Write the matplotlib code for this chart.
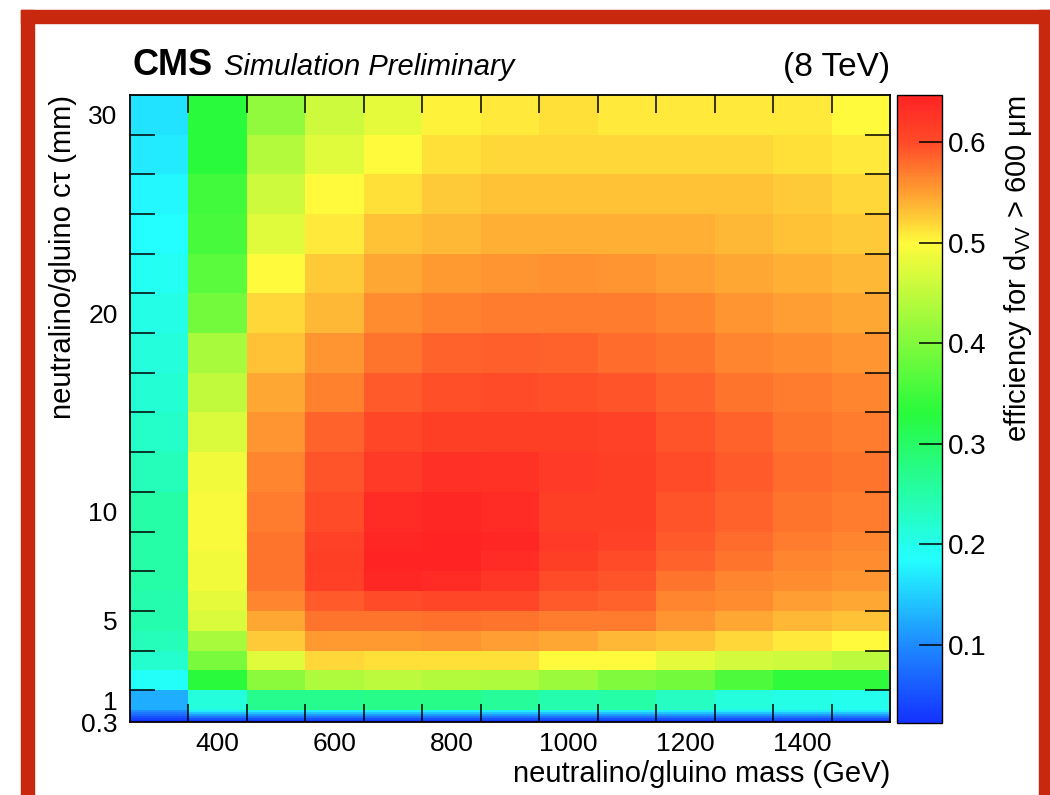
import numpy as np
import matplotlib
matplotlib.use("Agg")
import matplotlib.pyplot as plt
from matplotlib.colors import LinearSegmentedColormap, Normalize
from matplotlib.patches import Rectangle

plt.rcParams["font.family"] = ["Liberation Sans", "DejaVu Sans"]
plt.rcParams["mathtext.fontset"] = "custom"
plt.rcParams["mathtext.rm"] = "Liberation Sans"
plt.rcParams["mathtext.it"] = "Liberation Sans:italic"

# --------------------------
# Data: efficiency vs mass (columns) and ctau (rows, top to bottom)
# --------------------------
masses = [300, 400, 500, 600, 700, 800, 900, 1000, 1100, 1200, 1300, 1400, 1500]

# row edges on the display axis, bottom to top: thin sub-mm rows, 1..9 mm, then 10..30 mm in 2 mm steps
row_edges = [-0.1, 0.0, 0.1, 0.2, 0.3, 0.4, 0.5,
             1.5, 2.5, 3.5, 4.5, 5.5, 6.5, 7.5, 8.5, 9.5,
             11.5, 13.5, 15.5, 17.5, 19.5, 21.5, 23.5, 25.5, 27.5, 29.5, 31.5]

eff_ct30 = [0.165, 0.33, 0.415, 0.46, 0.48, 0.505, 0.51, 0.515, 0.51, 0.51, 0.51, 0.51, 0.50]
eff_ct28 = [0.17, 0.33, 0.44, 0.475, 0.50, 0.515, 0.52, 0.52, 0.52, 0.52, 0.52, 0.515, 0.51]
eff_ct26 = [0.18, 0.35, 0.46, 0.50, 0.515, 0.527, 0.532, 0.532, 0.532, 0.53, 0.53, 0.525, 0.52]
eff_ct24 = [0.185, 0.355, 0.475, 0.51, 0.53, 0.537, 0.542, 0.542, 0.54, 0.54, 0.535, 0.53, 0.525]
eff_ct22 = [0.195, 0.37, 0.50, 0.525, 0.545, 0.552, 0.555, 0.557, 0.555, 0.55, 0.545, 0.54, 0.535]
eff_ct20 = [0.205, 0.39, 0.52, 0.537, 0.56, 0.568, 0.57, 0.57, 0.57, 0.565, 0.555, 0.55, 0.545]
eff_ct18 = [0.21, 0.43, 0.53, 0.555, 0.575, 0.585, 0.588, 0.585, 0.58, 0.575, 0.565, 0.56, 0.555]
eff_ct16 = [0.215, 0.45, 0.545, 0.568, 0.59, 0.598, 0.60, 0.598, 0.595, 0.585, 0.575, 0.57, 0.565]
eff_ct14 = [0.225, 0.47, 0.555, 0.585, 0.605, 0.615, 0.615, 0.615, 0.61, 0.595, 0.585, 0.575, 0.57]
eff_ct12 = [0.235, 0.49, 0.565, 0.595, 0.62, 0.63, 0.628, 0.62, 0.615, 0.60, 0.59, 0.58, 0.575]
eff_ct10 = [0.25, 0.495, 0.57, 0.60, 0.635, 0.64, 0.635, 0.615, 0.615, 0.595, 0.585, 0.575, 0.57]
eff_ct9 = [0.25, 0.495, 0.575, 0.61, 0.64, 0.645, 0.64, 0.62, 0.61, 0.59, 0.58, 0.57, 0.565]
eff_ct8 = [0.25, 0.49, 0.575, 0.615, 0.645, 0.647, 0.635, 0.615, 0.60, 0.585, 0.575, 0.565, 0.56]
eff_ct7 = [0.25, 0.49, 0.575, 0.612, 0.64, 0.635, 0.625, 0.60, 0.595, 0.575, 0.565, 0.56, 0.555]
eff_ct6 = [0.245, 0.48, 0.565, 0.59, 0.60, 0.605, 0.605, 0.59, 0.585, 0.565, 0.56, 0.55, 0.545]
eff_ct5 = [0.245, 0.47, 0.545, 0.575, 0.575, 0.578, 0.575, 0.57, 0.57, 0.555, 0.545, 0.537, 0.53]
eff_ct4 = [0.235, 0.43, 0.527, 0.552, 0.552, 0.555, 0.55, 0.545, 0.535, 0.53, 0.52, 0.51, 0.50]
eff_ct3 = [0.22, 0.395, 0.475, 0.52, 0.515, 0.515, 0.515, 0.50, 0.50, 0.48, 0.465, 0.46, 0.445]
eff_ct2 = [0.19, 0.33, 0.41, 0.435, 0.445, 0.44, 0.435, 0.42, 0.40, 0.39, 0.36, 0.335, 0.335]
eff_ct1 = [0.125, 0.21, 0.27, 0.27, 0.275, 0.275, 0.26, 0.245, 0.25, 0.23, 0.21, 0.205, 0.20]
# sub-mm rows, top to bottom
eff_sub = [
    [0.10, 0.17, 0.17, 0.17, 0.17, 0.17, 0.17, 0.17, 0.17, 0.17, 0.17, 0.17, 0.17],
    [0.085, 0.14, 0.14, 0.14, 0.14, 0.14, 0.14, 0.14, 0.14, 0.14, 0.14, 0.14, 0.14],
    [0.07, 0.11, 0.11, 0.11, 0.11, 0.11, 0.11, 0.11, 0.11, 0.11, 0.11, 0.11, 0.11],
    [0.05, 0.08, 0.08, 0.08, 0.08, 0.08, 0.08, 0.08, 0.08, 0.08, 0.08, 0.08, 0.08],
    [0.035, 0.05, 0.05, 0.05, 0.05, 0.05, 0.05, 0.05, 0.05, 0.05, 0.05, 0.05, 0.05],
    [0.022, 0.03, 0.03, 0.03, 0.03, 0.03, 0.03, 0.03, 0.03, 0.03, 0.03, 0.03, 0.03],
]

rows_top_down = [eff_ct30, eff_ct28, eff_ct26, eff_ct24, eff_ct22, eff_ct20, eff_ct18,
                 eff_ct16, eff_ct14, eff_ct12, eff_ct10, eff_ct9, eff_ct8, eff_ct7,
                 eff_ct6, eff_ct5, eff_ct4, eff_ct3, eff_ct2, eff_ct1] + eff_sub

x_labels = ["400", "600", "800", "1000", "1200", "1400"]
y_labels = ["0.3", "1", "5", "10", "20", "30"]
y_label_pos = [-0.1, 1.0, 5.0, 10.5, 20.5, 30.5]
z_min, z_max = 0.022, 0.647

# --------------------------
# Colour palette
# --------------------------
stops = [
    (0.000, (20, 50, 255)),
    (0.125, (30, 140, 255)),
    (0.260, (35, 255, 255)),
    (0.493, (40, 250, 60)),
    (0.765, (255, 250, 60)),
    (0.845, (255, 160, 50)),
    (0.925, (255, 75, 40)),
    (1.000, (255, 35, 35)),
]
palette = LinearSegmentedColormap.from_list(
    "eff", [(s, tuple(c / 255 for c in col)) for s, col in stops], N=256)

# --------------------------
# Figure
# --------------------------
W, H = 1050, 795
fig = plt.figure(figsize=(W / 100, H / 100), dpi=100)

red = "#c8280e"
fig.patches.append(Rectangle((21 / W, 0), 13 / W, 1 - 10 / H, transform=fig.transFigure, color=red, zorder=0))
fig.patches.append(Rectangle((21 / W, 1 - 23 / H), 1 - 21 / W, 13 / H, transform=fig.transFigure, color=red, zorder=0))
fig.patches.append(Rectangle((1039 / W, 0), 11 / W, 1 - 10 / H, transform=fig.transFigure, color=red, zorder=0))

ax_l, ax_r, ax_t, ax_b = 130, 890, 95, 722
ax = fig.add_axes([ax_l / W, 1 - ax_b / H, (ax_r - ax_l) / W, (ax_b - ax_t) / H])

x_edges = [m - 50 for m in masses] + [masses[-1] + 50]
z = np.array(rows_top_down[::-1])
norm = Normalize(vmin=z_min, vmax=z_max)
mesh = ax.pcolormesh(x_edges, row_edges, z, cmap=palette, norm=norm, shading="flat")

ax.set_xlim(x_edges[0], x_edges[-1])
ax.set_ylim(row_edges[0], row_edges[-1])

ax.set_xticks([400, 600, 800, 1000, 1200, 1400])
ax.set_xticklabels(x_labels)
ax.set_xticks(x_edges[1:-1], minor=True)
ax.set_yticks(y_label_pos)
ax.set_yticklabels(y_labels)
ax.set_yticks(np.arange(1.5, 30, 2), minor=True)

ax.tick_params(axis="both", which="major", length=0, labelsize=19)
ax.tick_params(axis="x", which="major", pad=7)
ax.tick_params(axis="y", which="major", pad=9)
ax.tick_params(axis="x", which="minor", direction="in", length=13, width=1.1,
               top=True, bottom=True)
ax.tick_params(axis="y", which="minor", direction="in", length=18, width=1.1,
               left=True, right=True)
for sp in ax.spines.values():
    sp.set_linewidth(1.3)

# colour scale
cax = fig.add_axes([897 / W, 1 - 723 / H, 45 / W, (723 - 95) / H])
cb = fig.colorbar(mesh, cax=cax)
cb.set_ticks([0.1, 0.2, 0.3, 0.4, 0.5, 0.6])
cb.ax.tick_params(direction="in", length=16.5, width=1.1, labelsize=20, pad=4)
cb.outline.set_linewidth(1.0)

# --------------------------
# Labels
# --------------------------
fig.text(132 / W, 1 - 75 / H, "CMS", fontsize=26, fontweight="bold", va="baseline")
fig.text(224 / W, 1 - 75 / H, "Simulation Preliminary", fontsize=21, style="italic", va="baseline")
fig.text(890 / W, 1 - 76 / H, "(8 TeV)", fontsize=24, ha="right", va="baseline")

fig.text(890 / W, 1 - 782 / H, "neutralino/gluino mass (GeV)", fontsize=21, ha="right", va="baseline")
fig.text(63 / W, 1 - 95 / H, "neutralino/gluino c\u03c4 (mm)", fontsize=21, rotation=90,
         ha="center", va="top")
fig.text(1018 / W, 1 - 95 / H, "efficiency for d$_{\\mathrm{VV}}$ > 600 \u03bcm",
         fontsize=21, rotation=90, ha="center", va="top")

fig.savefig("out.png", dpi=100)
